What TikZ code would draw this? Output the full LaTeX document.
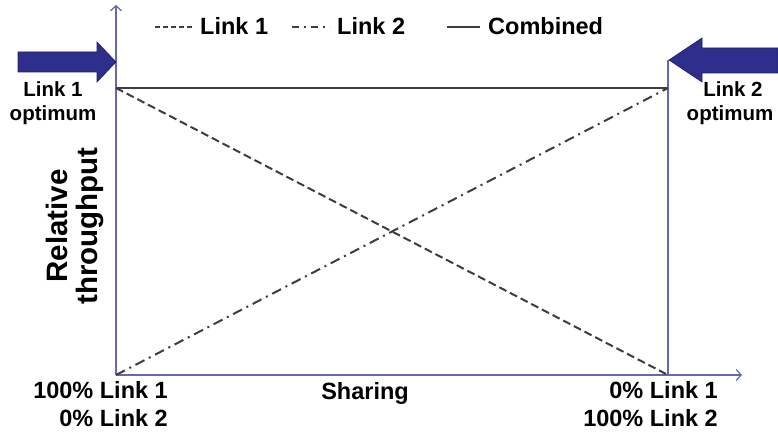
\documentclass[tikz,border=0pt]{standalone}
\usepackage{fontspec}
\setmainfont{Liberation Sans}
\usetikzlibrary{arrows.meta}
\definecolor{axisc}{RGB}{102,102,180}
\definecolor{arrowc}{RGB}{46,46,140}
\definecolor{arrowe}{RGB}{30,30,100}
\definecolor{curvec}{RGB}{62,62,62}
\tikzset{
  axis/.style={draw=axisc, line width=1.2pt},
  axisarrow/.style={axis, -{Straight Barb[length=5pt,width=11pt]}},
  bigarrow/.style={fill=arrowc, draw=arrowe, line width=0.6pt},
  combo/.style={draw=curvec, line width=2.4pt},
  linkone/.style={draw=curvec, line width=2pt, dash pattern=on 8pt off 4pt},
  linktwo/.style={draw=curvec, line width=2pt, dash pattern=on 10pt off 5pt on 2pt off 5pt},
  lbl/.style={font=\fontsize{23.5}{25}\selectfont\bfseries, inner sep=0pt},
  optlbl/.style={font=\fontsize{20.5}{23}\selectfont\bfseries, inner sep=0pt, align=center},
  ylbl/.style={font=\fontsize{29.5}{30}\selectfont\bfseries, inner sep=0pt, align=center, rotate=90},
}
\begin{document}
\begin{tikzpicture}[x=1pt,y=-1pt]
\useasboundingbox (0,0) rectangle (778,435);
% key points
\coordinate (O) at (116,375);
\coordinate (TL) at (116,88);
\coordinate (TR) at (668,88);
\coordinate (BR) at (668,375);
\coordinate (YT) at (116,5);
\coordinate (XE) at (742,375);
\coordinate (RT) at (668,60);
% axes
\draw[axisarrow] (O) -- (YT);
\draw[axisarrow] (O) -- (XE);
\draw[axis] (BR) -- (RT);
% curves
\draw[linkone] (TL) -- (BR);
\draw[linktwo] (O) -- (TR);
\draw[combo] (TL) -- (TR);
% big arrows
\draw[bigarrow] (18,52) -- (97,52) -- (97,42) -- (116,62) -- (97,82) -- (97,72) -- (18,72) -- cycle;
\draw[bigarrow] (778,48) -- (702,48) -- (702,38) -- (669,60) -- (702,82) -- (702,73) -- (778,73) -- cycle;
% optimum labels
\node[optlbl, anchor=base] (l1opt) at (53,97) {Link 1};
\node[optlbl, anchor=base] (l1opt2) at (53,121) {optimum};
\node[optlbl, anchor=base] (l2opt) at (733,97) {Link 2};
\node[optlbl, anchor=base] (l2opt2) at (730,121) {optimum};
% legend
\coordinate (d1a) at (155,27);
\coordinate (d1b) at (192,27);
\draw[curvec, line width=1.6pt, dash pattern=on 5pt off 3pt] (d1a) -- (d1b);
\node[lbl, anchor=base west] (leg1) at (200,35) {Link 1};
\coordinate (d2a) at (292,27);
\coordinate (d2b) at (330,27);
\draw[curvec, line width=1.6pt, dash pattern=on 7pt off 5pt on 2pt off 5pt] (d2a) -- (d2b);
\node[lbl, anchor=base west] (leg2) at (337,35) {Link 2};
\coordinate (d3a) at (447,27);
\coordinate (d3b) at (480,27);
\draw[curvec, line width=1.8pt] (d3a) -- (d3b);
\node[lbl, anchor=base west] (leg3) at (488,35) {Combined};
% axis labels
\node[ylbl] (ylab) at (75,226) {Relative\\throughput};
\node[lbl, anchor=base] (share) at (365,399) {Sharing};
\node[lbl, anchor=base east] (bl1) at (168,398) {100\% Link 1};
\node[lbl, anchor=base east] (bl2) at (168,426) {0\% Link 2};
\node[lbl, anchor=base east] (br1) at (718,398) {0\% Link 1};
\node[lbl, anchor=base east] (br2) at (718,426) {100\% Link 2};
\end{tikzpicture}
\end{document}
